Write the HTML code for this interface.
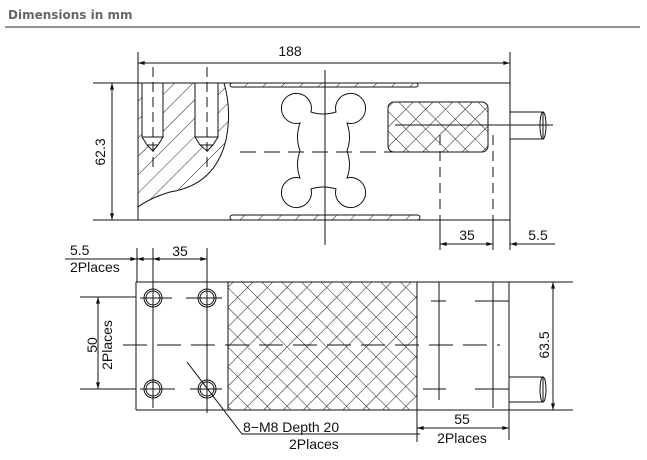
<!DOCTYPE html>
<html><head><style>
body{margin:0;background:#fff;}
svg{display:block;}
text{font-family:"Liberation Sans",sans-serif;fill:#111;}
</style></head><body>
<svg width="647" height="460" viewBox="0 0 647 460" xmlns="http://www.w3.org/2000/svg">
<defs>
<pattern id="x" width="14" height="14" patternUnits="userSpaceOnUse" patternTransform="rotate(45)">
<path d="M0 0V14M0 0H14" stroke="#222" stroke-width="1.1"/>
</pattern>
<pattern id="h" width="13" height="13" patternUnits="userSpaceOnUse" patternTransform="rotate(-45)">
<path d="M0 0H13" stroke="#222" stroke-width="1"/>
</pattern>
<marker id="a" viewBox="0 0 10 6" refX="10" refY="3" markerWidth="7" markerHeight="4" orient="auto-start-reverse"><path d="M0 0L10 3L0 6z" fill="#111"/></marker>
</defs>
<text x="8" y="19" style="font-family:'DejaVu Sans',sans-serif;font-weight:bold;font-size:12px;fill:#666">Dimensions in mm</text>
<line x1="5" y1="27" x2="640" y2="27" stroke="#555" stroke-width="1.3"/>
<g stroke="#111" stroke-width="1" fill="none">
<line x1="93" y1="83" x2="510" y2="83"/>
<line x1="93" y1="220" x2="510" y2="220"/>
<line x1="138" y1="52" x2="138" y2="220"/>
<line x1="510" y1="52" x2="510" y2="250"/>
<line x1="138" y1="63" x2="510" y2="63" marker-start="url(#a)" marker-end="url(#a)"/>
<line x1="112" y1="83" x2="112" y2="220" marker-start="url(#a)" marker-end="url(#a)"/>
<path d="M138 83H224Q232 110 226 140Q215 185 170 192Q150 198 138 207Z" fill="url(#h)"/>
<path d="M142 83V137H163V83Z M142 137L147 145H158L163 137 M147 145L153 151L158 145" fill="#fff"/>
<path d="M195 83V137H218V83Z M195 137L200 145H213L218 137 M200 145L207 151L213 145" fill="#fff"/>
<line x1="153" y1="67" x2="153" y2="170" stroke-dasharray="10,5"/>
<line x1="207" y1="67" x2="207" y2="170" stroke-dasharray="10,5"/>
<rect x="230" y="83" width="188" height="4" rx="2" fill="url(#h)"/>
<rect x="230" y="215" width="190" height="5" rx="2.5" fill="url(#h)"/>
<path d="M311 112A15 15 0 1 0 300 123Q295 137 300 151Q295 165 300 178A15 15 0 1 0 311 189Q323 185 336 189A15 15 0 1 0 347 178Q352 165 347 151Q352 137 347 123A15 15 0 1 0 336 112Q323 116 311 112Z" fill="#fff"/>
<line x1="325" y1="70" x2="325" y2="245"/>
<line x1="240" y1="152" x2="430" y2="152" stroke-dasharray="16,8"/>
<rect x="388" y="102" width="100" height="50" rx="6" fill="url(#x)"/>
<line x1="395" y1="125" x2="553" y2="125"/>
<path d="M510 112H543V139H510"/>
<ellipse cx="543" cy="125.5" rx="3" ry="13.5"/>
<line x1="440" y1="135" x2="440" y2="220" stroke-dasharray="10,6"/>
<line x1="493" y1="135" x2="493" y2="220" stroke-dasharray="10,6"/>
<line x1="440" y1="220" x2="440" y2="250"/>
<line x1="493" y1="220" x2="493" y2="250"/>
<line x1="440" y1="244" x2="493" y2="244" marker-start="url(#a)" marker-end="url(#a)"/>
<line x1="555" y1="244" x2="510" y2="244" marker-end="url(#a)"/>
<line x1="136" y1="282" x2="573" y2="282"/>
<line x1="136" y1="410" x2="573" y2="410"/>
<line x1="136" y1="282" x2="136" y2="410"/>
<line x1="509" y1="282" x2="509" y2="410"/>
<rect x="228" y="282" width="189" height="128" fill="url(#x)"/>
<line x1="553" y1="282" x2="553" y2="410" marker-start="url(#a)" marker-end="url(#a)"/>
<line x1="123" y1="345" x2="500" y2="345" stroke-dasharray="24,10"/>
<g>
<circle cx="153" cy="298" r="7"/><circle cx="153" cy="298" r="9"/>
<circle cx="207" cy="298" r="7"/><circle cx="207" cy="298" r="9"/>
<circle cx="153" cy="389" r="7"/><circle cx="153" cy="389" r="9"/>
<circle cx="207" cy="389" r="7"/><circle cx="207" cy="389" r="9"/>
</g>
<line x1="153" y1="248" x2="153" y2="408"/>
<line x1="207" y1="248" x2="207" y2="413"/>
<line x1="137" y1="248" x2="137" y2="282"/>
<line x1="140" y1="298" x2="172" y2="298"/><line x1="186" y1="298" x2="222" y2="298"/>
<line x1="140" y1="389" x2="175" y2="389"/><line x1="190" y1="389" x2="222" y2="389"/>
<line x1="439" y1="282" x2="439" y2="400"/>
<line x1="493" y1="282" x2="493" y2="408"/>
<line x1="431" y1="301" x2="446" y2="301"/><line x1="475" y1="301" x2="509" y2="301"/>
<line x1="423" y1="389" x2="446" y2="389"/><line x1="475" y1="389" x2="509" y2="389"/>
<path d="M509 377H543V402H509"/>
<ellipse cx="543" cy="389.5" rx="3" ry="12.5"/>
<line x1="80" y1="297" x2="136" y2="297"/>
<line x1="80" y1="389" x2="136" y2="389"/>
<line x1="98" y1="297" x2="98" y2="389" marker-start="url(#a)" marker-end="url(#a)"/>
<line x1="65" y1="259" x2="137" y2="259" marker-end="url(#a)"/>
<line x1="153" y1="259" x2="137" y2="259" marker-end="url(#a)"/>
<line x1="153" y1="259" x2="207" y2="259" marker-start="url(#a)" marker-end="url(#a)"/>
<path d="M187 362L242 434H420"/>
<line x1="417" y1="410" x2="417" y2="442"/>
<line x1="509" y1="410" x2="509" y2="440"/>
<line x1="417" y1="428" x2="509" y2="428" marker-start="url(#a)" marker-end="url(#a)"/>
</g>
<g font-size="14">
<text x="290" y="56" text-anchor="middle">188</text>
<text transform="translate(105,152) rotate(-90)" text-anchor="middle">62.3</text>
<text x="467" y="240" text-anchor="middle">35</text>
<text x="538" y="240" text-anchor="middle">5.5</text>
<text x="70" y="255">5.5</text>
<text x="70" y="272">2Places</text>
<text x="180" y="256" text-anchor="middle">35</text>
<text transform="translate(97,345) rotate(-90)" text-anchor="middle">50</text>
<text transform="translate(112,345) rotate(-90)" text-anchor="middle">2Places</text>
<text transform="translate(549,345) rotate(-90)" text-anchor="middle">63.5</text>
<text x="243" y="432">8−M8 Depth 20</text>
<text x="289" y="449">2Places</text>
<text x="462" y="424" text-anchor="middle">55</text>
<text x="462" y="443" text-anchor="middle">2Places</text>
</g>
</svg>
</body></html>
